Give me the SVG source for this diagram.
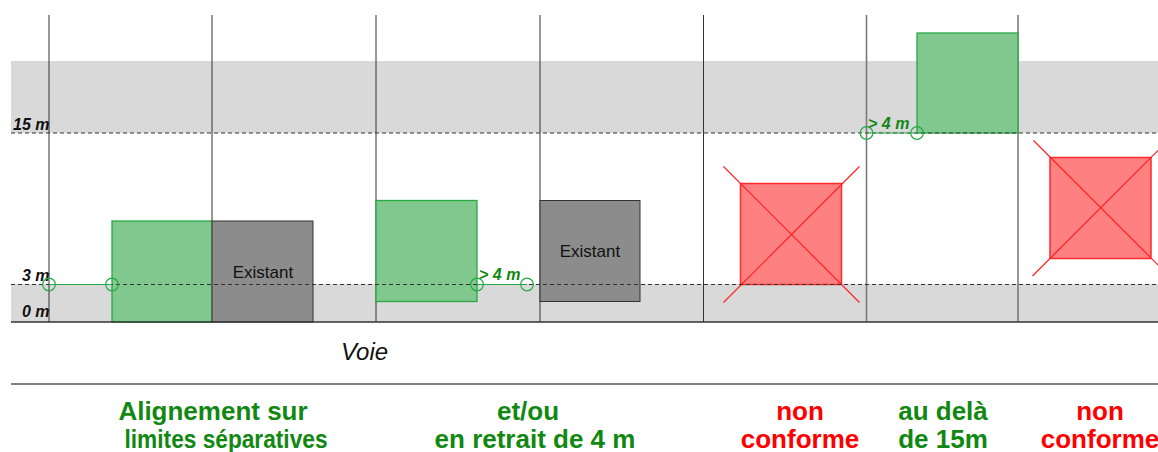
<svg xmlns="http://www.w3.org/2000/svg" width="1158" height="452" viewBox="0 0 1158 452">
<style>
.band{fill:#d9d9d9}
.dash{stroke:#333;stroke-width:1;stroke-dasharray:4,3;fill:none}
.vdark{stroke:#333;stroke-width:1}
.vgray{stroke:#7a7a7a;stroke-width:1.6}
.ok{fill:#80c88e;stroke:#2aa845;stroke-width:1.3}
.exist{fill:#8c8c8c;stroke:#333;stroke-width:1}
.bad{fill:#ff8080;stroke:#ff2a2a;stroke-width:1.5}
.cross{stroke:#ff2020;stroke-width:1.2;fill:none}
.circ{fill:none;stroke:#22aa44;stroke-width:1.2}
.gl{stroke:#22aa44;stroke-width:1.2}
.lvl{font-family:"Liberation Sans",Arial,sans-serif;font-weight:bold;font-style:italic;font-size:16px;fill:#111}
.dist{font-family:"Liberation Sans",Arial,sans-serif;font-weight:bold;font-style:italic;font-size:16px;fill:#118811}
.ex{font-family:"Liberation Sans",Arial,sans-serif;font-size:17px;fill:#111;text-anchor:middle}
.voie{font-family:"Liberation Sans",Arial,sans-serif;font-style:italic;font-size:24px;fill:#111}
.cap{font-family:"Liberation Sans",Arial,sans-serif;font-weight:bold;font-size:26px;text-anchor:middle}
.green{fill:#118811}
.red{fill:#ff0000}
</style>
<g id="background">
<rect class="band" x="11" y="61" width="1147" height="72"/>
<rect class="band" x="11" y="284" width="1147" height="38"/>
</g>
<g id="grid">
<line class="vdark" x1="49" y1="15" x2="49" y2="322"/>
<line class="vdark" x1="212" y1="15" x2="212" y2="322"/>
<line class="vdark" x1="376" y1="15" x2="376" y2="322"/>
<line class="vdark" x1="540" y1="15" x2="540" y2="322"/>
<line class="vdark" x1="703.5" y1="15" x2="703.5" y2="322"/>
<line class="vgray" x1="866.5" y1="15" x2="866.5" y2="322"/>
<line class="vgray" x1="1018" y1="15" x2="1018" y2="322"/>
</g>
<g id="node-green1"><rect class="ok" x="112" y="221" width="100" height="101"/></g>
<g id="node-existant1"><rect class="exist" x="212" y="221" width="101" height="101"/><text class="ex" x="263" y="278">Existant</text></g>
<g id="node-green2"><rect class="ok" x="376" y="200.5" width="101" height="101"/></g>
<g id="node-existant2"><rect class="exist" x="540" y="200.5" width="100" height="101"/><text class="ex" x="590" y="257">Existant</text></g>
<g id="node-red1"><rect class="bad" x="740.5" y="183.5" width="101" height="101"/><path class="cross" d="M723.5,166.5 L859.5,302.5 M723.5,302.5 L859.5,166.5"/></g>
<g id="node-green3"><rect class="ok" x="917" y="33" width="101" height="100"/></g>
<g id="node-red2"><rect class="bad" x="1050" y="157.5" width="101" height="101"/><path class="cross" d="M1033.5,140.5 L1168.5,275.5 M1032.5,276 L1168.5,140"/></g>
<g id="levels">
<line class="dash" x1="11" y1="133" x2="1158" y2="133"/>
<line class="dash" x1="11" y1="284.5" x2="1158" y2="284.5"/>
<line x1="11" y1="322" x2="1158" y2="322" stroke="#333" stroke-width="1.5"/>
<text class="lvl" x="13" y="130">15 m</text>
<text class="lvl" x="22" y="281">3 m</text>
<text class="lvl" x="22" y="317">0 m</text>
</g>
<g id="connectors">
<line class="gl" x1="49" y1="284.5" x2="112" y2="284.5"/>
<circle class="circ" cx="49" cy="284.5" r="6.3"/>
<circle class="circ" cx="112" cy="284.5" r="6.3"/>
<line class="gl" x1="477" y1="284.5" x2="527" y2="284.5"/>
<circle class="circ" cx="477" cy="284.5" r="6.3"/>
<circle class="circ" cx="527" cy="284.5" r="6.3"/>
<text class="dist" x="479" y="280">&gt; 4 m</text>
<line class="gl" x1="866.5" y1="133" x2="917" y2="133"/>
<circle class="circ" cx="866.5" cy="133" r="6.3"/>
<circle class="circ" cx="917" cy="133" r="6.3"/>
<text class="dist" x="868" y="129">&gt; 4 m</text>
</g>
<g id="road">
<text class="voie" x="341" y="360">Voie</text>
<line x1="11" y1="384" x2="1158" y2="384" stroke="#808080" stroke-width="2"/>
</g>
<g id="captions">
<text class="cap green" x="213" y="420">Alignement sur</text>
<text class="cap green" x="226" y="448" textLength="203" lengthAdjust="spacingAndGlyphs">limites séparatives</text>
<text class="cap green" x="528" y="420">et/ou</text>
<text class="cap green" x="535" y="448">en retrait de 4 m</text>
<text class="cap red" x="800" y="420">non</text>
<text class="cap red" x="800" y="448">conforme</text>
<text class="cap green" x="943" y="420">au delà</text>
<text class="cap green" x="943" y="448">de 15m</text>
<text class="cap red" x="1100" y="420">non</text>
<text class="cap red" x="1100" y="448">conforme</text>
</g>
</svg>
